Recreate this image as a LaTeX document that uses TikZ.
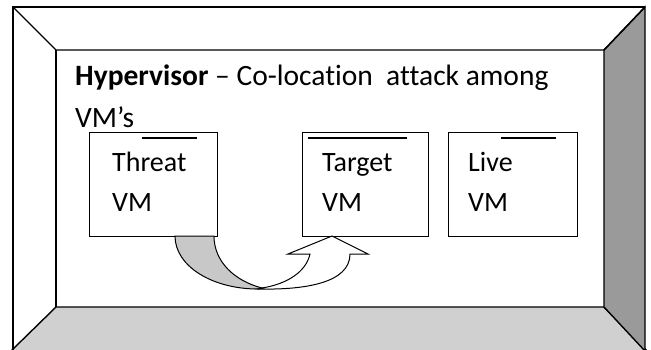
\documentclass[tikz,border=0pt]{standalone}
\usepackage{fontspec}
\setmainfont[Ligatures=NoCommon]{Carlito}
\definecolor{rightgray}{HTML}{9A9A9A}
\definecolor{bottomgray}{HTML}{D0D0D0}
\definecolor{arrowgray}{HTML}{C8C8C8}
\tikzset{
  edge/.style={line width=1.4pt, line join=miter},
  vmbox/.style={draw, line width=1.4pt, minimum width=128pt, minimum height=104pt, anchor=north west, inner sep=0pt},
  bar/.style={line width=1.4pt},
  lbl/.style={anchor=base west, inner sep=0pt, font=\fontsize{28}{34}\selectfont},
  hlbl/.style={anchor=base west, inner sep=0pt, font=\fontsize{29.5}{35}\selectfont},
}
\begin{document}
\begin{tikzpicture}[x=1pt,y=-1pt]
\useasboundingbox (0,0) rectangle (651,349);
% frame panels
\fill[white] (0,0) rectangle (651,349);
\filldraw[edge, fill=bottomgray] (56,307) -- (604,307) -- (647,351) -- (11,351) -- cycle;
\filldraw[edge, fill=rightgray] (645,7) -- (645,351) -- (604,307) -- (604,50) -- cycle;
\draw[edge] (13,351) -- (13,7) -- (645,7);
\draw[edge] (13,7) -- (56,50) -- (604,50) -- (645,7);
\draw[edge] (56,50) -- (56,307);
% heading
\node[hlbl] (head) at (75,85) {\textbf{Hypervisor} – Co-location\ \ attack among};
\node[hlbl] (vms) at (75,127) {VM’s};
% VM boxes
\node[vmbox] (threat) at (89,132) {};
\node[vmbox, minimum width=126pt] (target) at (302,132) {};
\node[vmbox, minimum width=129pt] (live) at (448,132) {};
\draw[bar] (142,138) -- (197,138);
\draw[bar] (308,138) -- (407,138);
\draw[bar] (501,138) -- (556,138);
\node[lbl] (t1) at (112,171) {Threat};
\node[lbl] (t2) at (112,211) {VM};
\node[lbl] (g1) at (322,171) {Target};
\node[lbl] (g2) at (322,211) {VM};
\node[lbl] (l1) at (468,171) {Live};
\node[lbl] (l2) at (468,211) {VM};
% curved arrow
\filldraw[line width=1pt, fill=arrowgray] (175,236) .. controls (175,266) and (212,289) .. (258,289) -- (262,288) .. controls (235,281) and (214,262) .. (214,236) -- cycle;
\filldraw[line width=1pt, fill=white] (258,289) .. controls (305,290) and (350,283) .. (350,254) -- (368,254) -- (332,236) -- (288,254) -- (310,254) .. controls (306,272) and (287,284) .. (262,288) -- cycle;
\end{tikzpicture}
\end{document}
